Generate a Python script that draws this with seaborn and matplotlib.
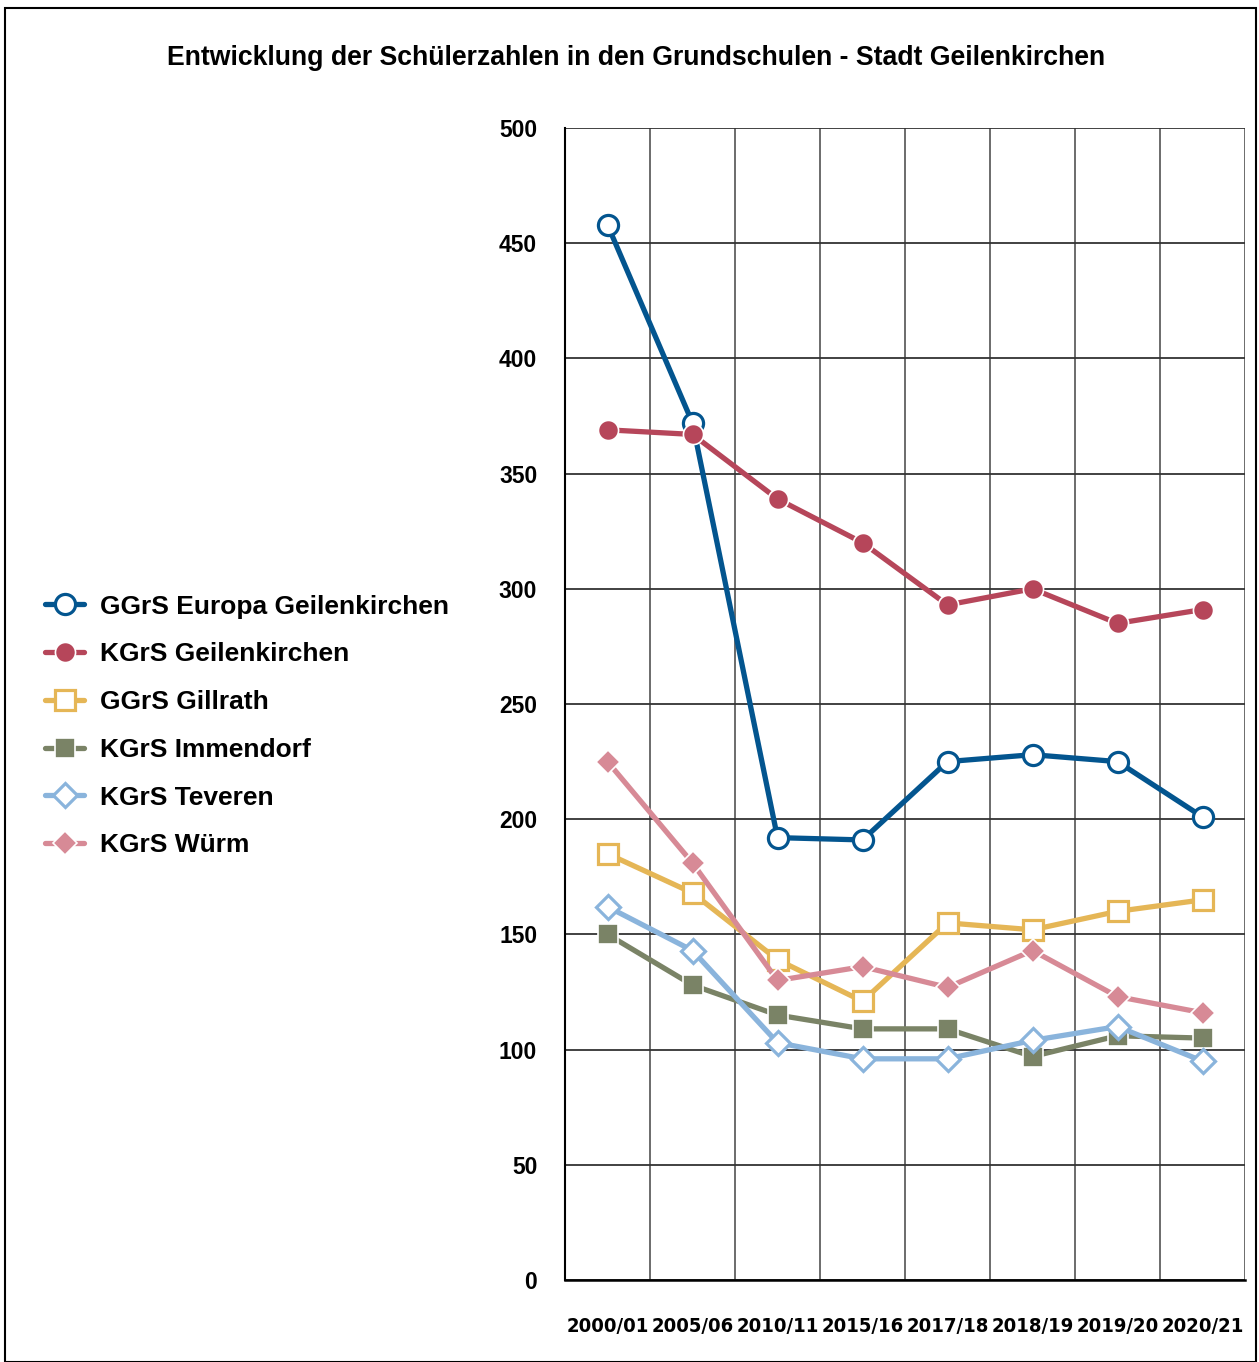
import matplotlib
matplotlib.use('Agg')
import matplotlib.pyplot as plt
import seaborn as sns
import pandas as pd
from matplotlib.patches import Rectangle

years = ['2000/01', '2005/06', '2010/11', '2015/16', '2017/18', '2018/19', '2019/20', '2020/21']

europa = [458, 372, 192, 191, 225, 228, 225, 201]
kgrs_geilenkirchen = [369, 367, 339, 320, 293, 300, 285, 291]
gillrath = [185, 168, 139, 121, 155, 152, 160, 165]
immendorf = [150, 128, 115, 109, 109, 97, 106, 105]
teveren = [162, 143, 103, 96, 96, 104, 110, 95]
wuerm = [225, 181, 130, 136, 127, 143, 123, 116]

series = {
    'GGrS Europa Geilenkirchen': europa,
    'KGrS Geilenkirchen': kgrs_geilenkirchen,
    'GGrS Gillrath': gillrath,
    'KGrS Immendorf': immendorf,
    'KGrS Teveren': teveren,
    'KGrS Würm': wuerm,
}

# colour, marker, hollow?
styles = {
    'GGrS Europa Geilenkirchen': ('#03558F', 'o', True),
    'KGrS Geilenkirchen': ('#B6465A', 'o', False),
    'GGrS Gillrath': ('#E5B656', 's', True),
    'KGrS Immendorf': ('#7A8366', 's', False),
    'KGrS Teveren': ('#8AB4DC', 'D', True),
    'KGrS Würm': ('#D78A96', 'D', False),
}

sns.set_style('white')
plt.rcParams['font.family'] = ['Liberation Sans', 'DejaVu Sans']
plt.rcParams['text.color'] = 'black'
plt.rcParams['xtick.color'] = 'black'
plt.rcParams['ytick.color'] = 'black'

fig = plt.figure(figsize=(12.59, 13.62), dpi=100)
ax = fig.add_axes([565 / 1259, 1 - 1280 / 1362, 680 / 1259, 1152 / 1362])

for name, vals in series.items():
    color, marker, hollow = styles[name]
    df = pd.DataFrame({'Jahr': years, 'Schüler': vals})
    size = 12.5 if marker == 'D' else 14.5
    sns.lineplot(data=df, x='Jahr', y='Schüler', ax=ax, color=color, linewidth=3.8,
                 marker=marker, markersize=size,
                 markerfacecolor='white' if hollow else color,
                 markeredgecolor=color if hollow else 'white',
                 markeredgewidth=2.3 if hollow else 1.2,
                 label=name, sort=False, zorder=3)

ax.set_xlim(-0.5, len(years) - 0.5)
ax.set_ylim(0, 500)
ax.set_yticks(range(0, 501, 50))
ax.set_xlabel('')
ax.set_ylabel('')

ax.set_xticks([i + 0.5 for i in range(-1, len(years))], minor=True)
ax.set_xticks(range(len(years)))
ax.set_xticklabels(years, fontsize=14.5, fontweight='bold', family='DejaVu Sans',
                   fontstretch='condensed')
ax.tick_params(axis='x', which='major', length=0, pad=27)
ax.tick_params(axis='x', which='minor', length=8, width=1.2, direction='out')
ax.tick_params(axis='y', length=8, width=1.5, pad=12, labelsize=16.5, direction='out')
for lab in ax.get_yticklabels():
    lab.set_fontweight('bold')

ax.grid(axis='y', color='#333333', linewidth=1.3)
ax.grid(axis='x', which='minor', color='#444444', linewidth=1.1)
ax.grid(axis='x', which='major', visible=False)
for s in ['top', 'right']:
    ax.spines[s].set_visible(False)
ax.spines['left'].set_color('black')
ax.spines['left'].set_linewidth(1.5)
ax.spines['bottom'].set_color('black')
ax.spines['bottom'].set_linewidth(1.8)

handles, labels = ax.get_legend_handles_labels()
ax.legend(handles, labels, loc='center left', bbox_to_anchor=(21 / 1259, 1 - 726 / 1362),
          bbox_transform=fig.transFigure, frameon=False, handlelength=1.5,
          handletextpad=0.6, labelspacing=0.9, prop={'size': 19, 'weight': 'bold'})

fig.text(636 / 1259, 1 - 58 / 1362,
         'Entwicklung der Schülerzahlen in den Grundschulen - Stadt Geilenkirchen',
         ha='center', va='center', fontsize=19.2, fontweight='bold')

fig.patches.append(Rectangle((5 / 1259, 0), 1251 / 1259, 1 - 8 / 1362, transform=fig.transFigure,
                             fill=False, edgecolor='black', linewidth=1.5))

fig.savefig('out.png', dpi=100)
